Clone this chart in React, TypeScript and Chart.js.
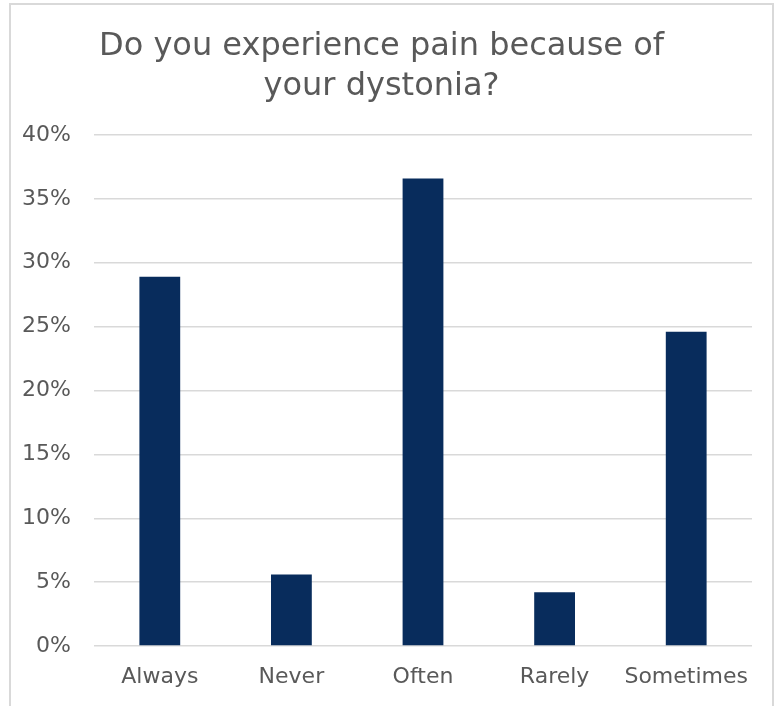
import React, { useEffect, useRef } from "react";
import { Chart, registerables } from "chart.js";

Chart.register(...registerables);

const categories: string[] = ["Always", "Never", "Often", "Rarely", "Sometimes"];
const values: number[] = [28.9, 5.6, 36.6, 4.2, 24.6];
const titleLines: string[] = ["Do you experience pain because of", "your dystonia?"];
const yMin = 0;
const yMax = 40;
const yStep = 5;

const FONT = "'DejaVu Sans', sans-serif";
const TEXT = "#595959";

export default function App() {
  const ref = useRef<HTMLCanvasElement>(null);

  useEffect(() => {
    if (!ref.current) return;
    const chart = new Chart(ref.current, {
      type: "bar",
      data: {
        labels: categories,
        datasets: [
          {
            data: values,
            backgroundColor: "#082C5C",
            categoryPercentage: 1,
            barPercentage: 0.31,
          },
        ],
      },
      options: {
        responsive: false,
        animation: false,
        layout: { padding: { left: 0, right: 20, top: 0, bottom: 16 } },
        plugins: {
          legend: { display: false },
          tooltip: { enabled: false },
          title: {
            display: true,
            text: titleLines,
            color: TEXT,
            font: { family: FONT, size: 32, weight: "normal", lineHeight: 40 / 32 },
            padding: { top: 22, bottom: 28 },
          },
        },
        scales: {
          x: {
            grid: { display: false, drawTicks: false },
            border: { display: false },
            ticks: {
              color: TEXT,
              font: { family: FONT, size: 22 },
              padding: 18,
              maxRotation: 0,
              autoSkip: false,
            },
            afterFit: (s: any) => {
              s.height = 43;
            },
          },
          y: {
            min: yMin,
            max: yMax,
            ticks: {
              stepSize: yStep,
              color: TEXT,
              font: { family: FONT, size: 22 },
              padding: 23,
              callback: (v: any) => v + "%",
            },
            grid: { color: "#d9d9d9", lineWidth: 1.5, drawTicks: false },
            border: { display: false },
            afterFit: (s: any) => {
              s.width = 83;
            },
          },
        },
      },
    });
    return () => chart.destroy();
  }, []);

  return (
    <div
      style={{
        position: "absolute",
        left: 9,
        top: 3,
        width: 761,
        height: 701,
        border: "2px solid #d9d9d9",
        background: "#fff",
      }}
    >
      <canvas ref={ref} width={761} height={700} style={{ display: "block" }} />
    </div>
  );
}
